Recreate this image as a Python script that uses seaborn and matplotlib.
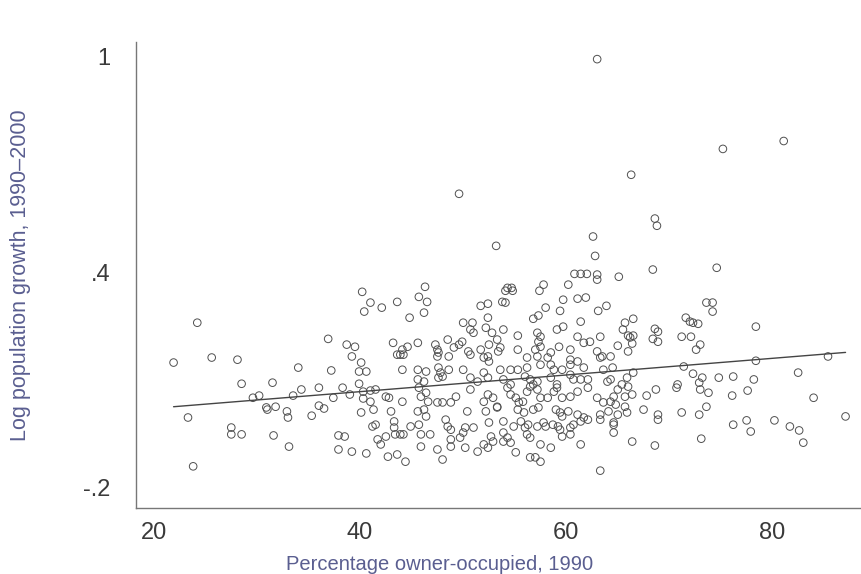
import matplotlib
matplotlib.use("Agg")
import matplotlib.pyplot as plt
import seaborn as sns
import numpy as np
import pandas as pd

# ---- data ----
owner_pct = [
    63.0, 75.2, 81.1, 66.3, 49.6, 68.6, 68.8, 62.6, 53.2, 62.8, 68.4, 74.6, 60.8, 61.4, 62.0, 63.0, 63.0, 65.1, 57.8, 60.2, 54.3, 54.7,
    46.3, 54.1, 54.8, 57.4, 45.7, 46.5, 43.6, 42.1, 41.0, 44.8, 46.2, 51.7, 52.4, 53.8, 54.1, 59.7, 61.1, 61.9, 58.0, 59.4, 63.1, 63.9,
    56.8, 57.3, 61.4, 52.4, 50.0, 50.9, 59.1, 59.7, 52.2, 52.8, 53.3, 53.9, 52.5, 53.6, 50.7, 51.0, 55.3, 57.2, 57.5, 57.3, 61.1, 61.7,
    62.3, 63.3, 43.2, 44.1, 44.6, 43.6, 44.2, 45.6, 47.3, 47.5, 47.6, 48.5, 49.1, 49.6, 49.9, 50.5, 51.7, 52.4, 53.4, 55.3, 57.0, 57.5,
    58.5, 59.3, 60.4, 63.0, 63.5,
    43.9, 47.5, 48.6, 50.7, 52.0, 52.5, 56.2, 57.2, 58.2, 60.4, 61.1, 63.3, 64.3,
    44.1, 45.6, 46.4, 47.6, 47.8, 48.6, 50.0, 52.0, 53.6, 54.6, 55.3, 56.2, 57.5, 58.5, 58.8, 59.6, 60.4, 61.7, 63.6, 64.5,
    45.6, 46.2, 47.6, 48.0, 50.7, 51.4, 52.4, 53.9, 54.6, 56.0, 56.5, 56.8, 57.2, 58.5, 59.1, 60.4, 60.7, 61.4, 62.1, 64.0, 64.3,
    41.5, 42.5, 42.8, 44.1, 45.7, 45.9, 46.4, 46.6, 47.5, 48.0, 48.8, 49.3, 50.7, 52.0, 52.4, 52.9, 53.3, 54.3, 54.6, 55.1, 55.4, 55.8,
    56.2, 56.5, 57.2, 57.5, 58.2, 58.8, 59.1, 59.6, 60.4, 61.1, 62.1, 63.0, 63.6, 64.3,
    41.3, 43.0, 45.6, 46.2, 46.4, 48.3, 50.4, 52.2, 53.3, 55.3, 55.9, 56.8, 57.3, 59.0, 59.4, 59.6, 60.2, 61.1, 61.7, 63.3, 64.1,
    41.5, 43.3, 43.3, 44.9, 45.7, 48.5, 48.8, 50.2, 51.0, 52.5, 53.9, 54.9, 55.6, 56.0, 56.3, 57.2, 57.8, 58.0, 58.7, 59.2, 59.4, 60.4,
    60.7, 61.4, 62.1, 63.3, 64.6,
    41.7, 42.5, 43.4, 43.9, 44.2, 45.9, 46.8, 48.8, 49.7, 50.0, 52.7, 53.9, 54.3, 56.2, 56.5, 59.6, 60.4,
    42.0, 45.9, 47.5, 48.8, 50.2, 51.4, 52.0, 52.4, 52.9, 53.9, 54.6, 57.5, 58.5, 61.4,
    42.7, 43.6, 44.4, 48.0, 55.1, 56.5, 57.0, 57.5, 63.3,
    21.9, 25.6, 28.1, 34.0, 37.2, 39.2, 40.1, 39.9, 40.6, 28.5, 31.5, 30.2, 29.6, 33.5, 34.3, 36.0, 38.3, 39.9, 40.3, 41.0, 37.4, 39.0,
    40.3, 41.0, 30.9, 31.0, 31.8, 32.9, 33.0, 35.3, 36.0, 36.5, 40.1, 23.3, 27.5, 27.5, 28.5, 31.6, 37.9, 38.5, 33.1, 37.9, 39.2, 40.6,
    23.8, 41.2,
    40.2, 40.4, 24.2, 36.9, 38.7, 39.5,
    73.6, 74.2, 74.2, 78.4, 71.6, 72.0, 72.3, 72.8, 65.7, 66.5, 65.5, 66.0, 66.5, 66.2, 65.0, 66.0, 66.4, 68.6, 68.9, 68.4, 68.9, 71.2,
    72.1, 73.0, 72.6, 78.4, 85.4,
    71.4, 82.5, 72.3, 73.2, 72.9, 74.8, 76.2, 78.2, 70.8, 70.7, 68.7, 67.8, 73.0, 73.8, 77.6, 76.1, 84.0, 66.5, 65.9, 66.0, 65.4, 65.0,
    65.7, 66.4, 64.6, 64.8, 65.0, 65.7, 65.9, 64.6, 64.6, 67.5, 68.9, 68.9, 71.2, 72.9, 73.6, 76.2, 77.5, 77.9, 80.2, 81.7, 82.6, 83.0,
    87.1, 66.4, 68.6, 73.1,
]
log_growth = [
    0.994, 0.744, 0.766, 0.672, 0.619, 0.550, 0.530, 0.500, 0.474, 0.446, 0.408, 0.413, 0.396, 0.396, 0.396, 0.394, 0.380, 0.388, 0.366, 0.366, 0.357, 0.357,
    0.360, 0.349, 0.349, 0.349, 0.332, 0.318, 0.318, 0.302, 0.316, 0.274, 0.288, 0.307, 0.313, 0.318, 0.316, 0.324, 0.327, 0.330, 0.302, 0.293, 0.293, 0.307,
    0.271, 0.280, 0.263, 0.274, 0.260, 0.260, 0.241, 0.249, 0.246, 0.232, 0.213, 0.241, 0.199, 0.191, 0.241, 0.232, 0.224, 0.232, 0.221, 0.207, 0.221, 0.204,
    0.207, 0.221, 0.204, 0.185, 0.193, 0.171, 0.171, 0.204, 0.199, 0.185, 0.177, 0.213, 0.191, 0.199, 0.207, 0.180, 0.185, 0.166, 0.180, 0.185, 0.185, 0.193,
    0.177, 0.193, 0.185, 0.180, 0.166,
    0.171, 0.166, 0.166, 0.171, 0.163, 0.152, 0.163, 0.166, 0.163, 0.157, 0.152, 0.163, 0.166,
    0.129, 0.129, 0.124, 0.135, 0.121, 0.129, 0.129, 0.121, 0.129, 0.129, 0.129, 0.135, 0.143, 0.143, 0.129, 0.129, 0.143, 0.135, 0.129, 0.135,
    0.102, 0.096, 0.107, 0.110, 0.107, 0.096, 0.107, 0.102, 0.088, 0.110, 0.102, 0.088, 0.096, 0.107, 0.088, 0.115, 0.102, 0.102, 0.102, 0.096, 0.102,
    0.074, 0.054, 0.051, 0.040, 0.079, 0.054, 0.065, 0.040, 0.038, 0.038, 0.038, 0.054, 0.074, 0.040, 0.060, 0.051, 0.026, 0.079, 0.060, 0.051, 0.038, 0.040,
    0.068, 0.082, 0.074, 0.051, 0.051, 0.068, 0.079, 0.051, 0.054, 0.068, 0.079, 0.051, 0.038, 0.040,
    0.018, 0.013, 0.013, 0.018, -0.001, -0.010, 0.013, 0.013, 0.024, 0.018, 0.010, 0.018, 0.024, 0.018, 0.010, -0.001, 0.013, 0.004, -0.004, 0.004, 0.013,
    -0.024, -0.015, -0.032, -0.029, -0.024, -0.029, -0.038, -0.032, -0.032, -0.018, -0.015, -0.029, -0.015, -0.032, -0.024, -0.029, -0.018, -0.029, -0.024, -0.029, -0.038, -0.032,
    -0.024, -0.015, -0.010, -0.010, -0.018,
    -0.065, -0.057, -0.051, -0.051, -0.051, -0.051, -0.051, -0.065, -0.060, -0.046, -0.057, -0.046, -0.060, -0.051, -0.060, -0.057, -0.051,
    -0.079, -0.085, -0.093, -0.085, -0.088, -0.099, -0.079, -0.088, -0.071, -0.071, -0.074, -0.079, -0.088, -0.079,
    -0.113, -0.107, -0.127, -0.121, -0.101, -0.115, -0.115, -0.127, -0.152,
    0.149, 0.163, 0.157, 0.135, 0.127, 0.166, 0.149, 0.124, 0.124, 0.090, 0.093, 0.057, 0.051, 0.057, 0.074, 0.079, 0.079, 0.090, 0.068, 0.071, 0.051, 0.060,
    0.049, 0.040, 0.024, 0.018, 0.026, 0.013, -0.004, 0.001, 0.029, 0.021, 0.010, -0.004, -0.032, -0.051, -0.051, -0.054, -0.054, -0.057, -0.085, -0.093, -0.099, -0.104,
    -0.140, -0.029,
    0.346, 0.291, 0.260, 0.215, 0.199, 0.193,
    0.316, 0.316, 0.291, 0.249, 0.274, 0.263, 0.260, 0.257, 0.260, 0.271, 0.241, 0.224, 0.224, 0.219, 0.196, 0.180, 0.202, 0.243, 0.235, 0.215, 0.207, 0.221,
    0.221, 0.199, 0.185, 0.154, 0.166,
    0.138, 0.121, 0.118, 0.107, 0.093, 0.107, 0.110, 0.102, 0.088, 0.079, 0.074, 0.057, 0.074, 0.065, 0.071, 0.057, 0.051, 0.121, 0.107, 0.082, 0.088, 0.074,
    0.054, 0.060, 0.054, 0.032, 0.004, 0.026, 0.010, -0.024, -0.046, 0.018, 0.004, -0.010, 0.010, 0.004, 0.026, -0.024, -0.012, -0.043, -0.012, -0.029, -0.040, -0.074,
    -0.001, -0.071, -0.082, -0.063,
]
# fitted regression line (intercept, slope) as drawn in the reference
fit_intercept = -0.0248
fit_slope = 0.00232

x_ticks = [20, 40, 60, 80]
y_ticks = [-0.2, 0.4, 1.0]
y_ticklabels = ["-.2", ".4", "1"]
x_label = "Percentage owner-occupied, 1990"
y_label = "Log population growth, 1990\u20132000"

n = min(len(owner_pct), len(log_growth))
df = pd.DataFrame({"owner": owner_pct[:n], "growth": log_growth[:n]})
fit_x = [min(owner_pct), max(owner_pct)]
fit_df = pd.DataFrame({"owner": fit_x,
                       "growth": [fit_intercept + fit_slope * v for v in fit_x]})

sns.set_theme(style="white")
plt.rcParams["font.family"] = ["Liberation Sans", "DejaVu Sans"]

fig = plt.figure(figsize=(8.61, 5.74), dpi=100)
ax = fig.add_axes([0.1585, 0.115, 0.8415, 0.812])

sns.scatterplot(data=df, x="owner", y="growth", ax=ax, marker="o",
                s=30, facecolors="none", edgecolor="#505050", linewidth=0.7,
                legend=False)
sns.lineplot(data=fit_df, x="owner", y="growth", ax=ax, color="#444444",
             linewidth=1.0, legend=False)

ax.set_xlim(18.3, 88.6)
ax.set_ylim(-0.256, 1.042)
ax.set_xticks(x_ticks)
ax.set_xticklabels([str(t) for t in x_ticks])
ax.set_yticks(y_ticks)
ax.set_yticklabels(y_ticklabels)

for s in ["top", "right"]:
    ax.spines[s].set_visible(False)
for s in ["left", "bottom"]:
    ax.spines[s].set_color("#777777")
    ax.spines[s].set_linewidth(1.0)

ax.tick_params(axis="both", direction="out", length=7, width=0.8,
               color="#777777", labelcolor="#3a3a3a", labelsize=17)
ax.tick_params(axis="y", pad=12)
ax.tick_params(axis="x", pad=3)

ax.set_xlabel(x_label, fontsize=14.5, color="#5a5e90")
ax.set_ylabel(y_label, fontsize=15.5, color="#5a5e90")
ax.xaxis.set_label_coords(0.418, -0.1)
ax.yaxis.set_label_coords(-0.146, 0.5)

fig.savefig("out.png", dpi=100)
